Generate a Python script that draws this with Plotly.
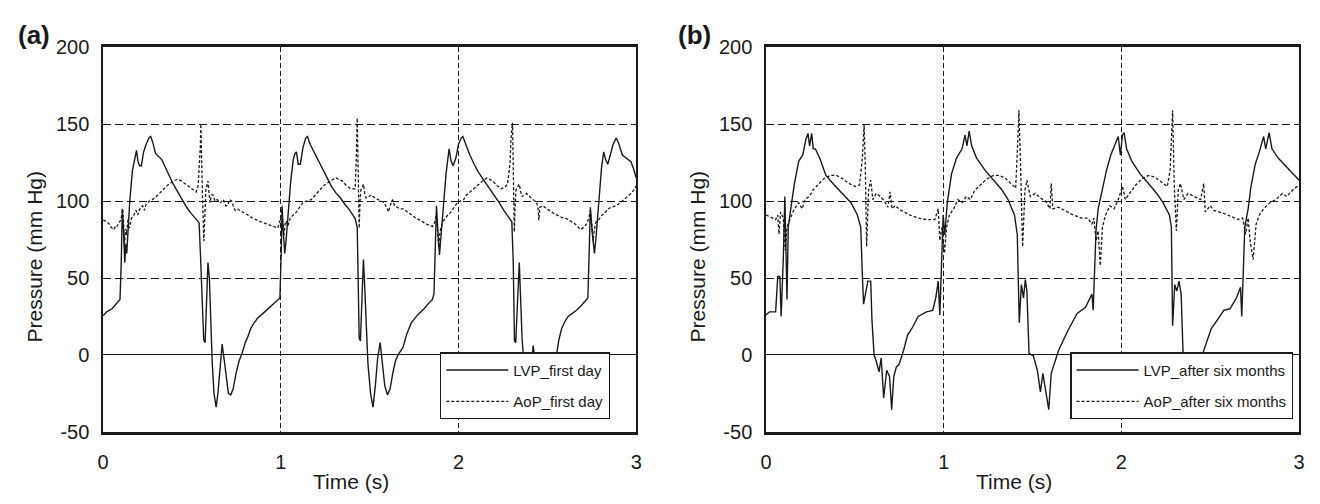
import plotly.graph_objects as go

# ---------------- Panel (a): first day ----------------
t_lvp_a = [0.000, 0.020, 0.050, 0.080, 0.095, 0.102, 0.108, 0.115, 0.122, 0.128, 0.133, 0.140, 0.150, 0.165,
           0.180, 0.188, 0.196, 0.205, 0.215, 0.228, 0.242, 0.258, 0.268, 0.280, 0.295, 0.310, 0.330, 0.350,
           0.370, 0.395, 0.420, 0.445, 0.470, 0.495, 0.515, 0.530, 0.540, 0.548, 0.556, 0.566, 0.574, 0.582,
           0.590, 0.598, 0.606, 0.614, 0.624, 0.636, 0.646, 0.658, 0.670, 0.680, 0.692, 0.705, 0.718, 0.732,
           0.748, 0.765, 0.782, 0.800, 0.815, 0.830, 0.845, 0.870, 0.900, 0.930, 0.960, 0.985, 0.995,
           1.003, 1.007, 1.014, 1.022, 1.030, 1.040, 1.055, 1.070, 1.080, 1.088, 1.098, 1.110, 1.125, 1.140,
           1.150, 1.165, 1.195, 1.220, 1.241, 1.265, 1.288, 1.312, 1.336, 1.360, 1.382, 1.405, 1.418, 1.430,
           1.436, 1.441, 1.448, 1.456, 1.465, 1.472, 1.480, 1.490, 1.505, 1.519, 1.532, 1.545, 1.559, 1.570,
           1.585, 1.600, 1.615, 1.630, 1.645, 1.660, 1.672, 1.688, 1.710, 1.735, 1.770, 1.806, 1.835, 1.853,
           1.862, 1.868, 1.876, 1.884, 1.893, 1.902, 1.915, 1.930, 1.947, 1.958, 1.970, 1.985, 2.000, 2.015,
           2.024, 2.040, 2.064, 2.088, 2.111, 2.140, 2.170, 2.200, 2.229, 2.255, 2.276, 2.300, 2.308, 2.315,
           2.322, 2.332, 2.342, 2.350, 2.358, 2.368, 2.380, 2.392, 2.405, 2.420, 2.432, 2.445, 2.460, 2.475,
           2.495, 2.520, 2.540, 2.553, 2.565, 2.580, 2.600, 2.617, 2.640, 2.664, 2.690, 2.711, 2.728, 2.736,
           2.742, 2.752, 2.765, 2.775, 2.790, 2.805, 2.817, 2.828, 2.840, 2.855, 2.870, 2.887, 2.900, 2.922,
           2.945, 2.970, 2.985, 3.000]
lvp_a = [25.5, 28, 30, 34, 36, 60, 95, 80, 60, 72, 66, 80, 100, 120,
         130, 133, 126, 123, 123, 132, 137, 141, 142, 138, 131, 129, 127, 122,
         117, 111, 106, 101, 96, 92, 89, 87, 86, 65, 35, 10, 8, 40,
         60, 50, 20, -5, -25, -34, -25, -8, 7, -2, -15, -25, -26, -22,
         -12, -4, 1, 8, 12, 17, 20, 24, 27, 30, 33, 36, 37,
         70, 97, 80, 66, 75, 90, 112, 127, 131, 132, 124, 124, 135, 141,
         142, 137, 130, 124, 119, 114, 109, 105, 102, 98, 95, 91, 88.7, 83,
         50, 11, 9, 40, 62, 45, 17, -5, -25, -34, -20, -2, 8, -5,
         -20, -26, -22, -12, -4, 0, 2, 5, 14, 21, 26, 30, 34, 36,
         40, 75, 97, 80, 65, 78, 95, 118, 134, 126, 123, 128, 137, 141,
         142, 137, 130, 124, 119, 114, 109, 104, 99, 94, 90.7, 86.6, 60, 9,
         8, 40, 60, 35, 10, -5, -25, -33, -15, 6, -5, -20, -25, -20,
         -10, -3, 0, 1, 10, 17, 22, 25, 27, 29, 32, 35, 37, 70,
         96, 80, 66, 78, 100, 122, 132, 127, 124, 130, 137, 141, 138, 130,
         128, 125.6, 121, 115]

t_aop_a = [0.000, 0.015, 0.031, 0.045, 0.061, 0.070, 0.078, 0.094, 0.104, 0.110, 0.116, 0.120, 0.126, 0.132,
           0.140, 0.148, 0.160, 0.172, 0.185, 0.195, 0.207, 0.222, 0.232, 0.242, 0.260, 0.277, 0.300, 0.324,
           0.350, 0.371, 0.395, 0.419, 0.442, 0.465, 0.489, 0.510, 0.524, 0.535, 0.541, 0.547, 0.550, 0.554,
           0.560, 0.567, 0.572, 0.578, 0.584, 0.590, 0.596, 0.602, 0.610, 0.618, 0.630, 0.642, 0.660, 0.677,
           0.690, 0.700, 0.712, 0.724, 0.735, 0.743, 0.755, 0.771, 0.795, 0.818, 0.840, 0.865, 0.890, 0.912,
           0.935, 0.959, 0.983, 0.995, 1.000, 1.006, 1.012, 1.018, 1.024, 1.030, 1.040, 1.053, 1.070, 1.089,
           1.105, 1.124, 1.145, 1.171, 1.195, 1.218, 1.240, 1.265, 1.290, 1.312, 1.330, 1.347, 1.370, 1.394,
           1.418, 1.424, 1.430, 1.436, 1.441, 1.446, 1.450, 1.458, 1.465, 1.472, 1.480, 1.495, 1.512, 1.530,
           1.547, 1.565, 1.582, 1.595, 1.606, 1.618, 1.629, 1.640, 1.653, 1.670, 1.688, 1.710, 1.735, 1.760,
           1.782, 1.805, 1.829, 1.853, 1.865, 1.876, 1.882, 1.888, 1.894, 1.900, 1.910, 1.923, 1.940, 1.959,
           1.975, 1.994, 2.010, 2.029, 2.045, 2.064, 2.088, 2.111, 2.135, 2.158, 2.175, 2.194, 2.218, 2.241,
           2.260, 2.276, 2.290, 2.295, 2.304, 2.310, 2.314, 2.318, 2.323, 2.332, 2.342, 2.350, 2.358, 2.370,
           2.382, 2.400, 2.417, 2.430, 2.440, 2.448, 2.452, 2.458, 2.476, 2.495, 2.511, 2.535, 2.558, 2.580,
           2.605, 2.630, 2.652, 2.670, 2.687, 2.705, 2.723, 2.735, 2.742, 2.750, 2.757, 2.765, 2.775, 2.790,
           2.805, 2.822, 2.840, 2.860, 2.887, 2.910, 2.934, 2.952, 2.970, 2.985, 3.000]
aop_a = [87.6, 87, 85.6, 83, 81.5, 84, 83.5, 86.6, 90, 95, 85, 70, 82, 78,
         88, 82.5, 89, 90.7, 94, 91, 95, 97, 94, 98, 100, 101, 103, 106,
         109, 111, 113, 114.3, 113, 111, 109, 107, 106, 110, 119.5, 135, 150, 120,
         99, 74, 90, 107, 110, 113, 105, 99, 104, 104, 100, 101, 99, 101,
         97, 97, 101, 100, 96, 94, 95, 94, 92, 90.7, 89, 87.6, 86.5, 85.6,
         84.5, 83.5, 82.5, 86.6, 92, 95, 85, 78, 85, 87, 84, 89, 91, 93,
         96, 99, 100, 101, 104, 107, 110, 112, 114, 115, 114, 113, 110, 108,
         108, 125, 154, 110, 82.5, 100, 107, 109, 111, 105, 102, 103, 104, 102,
         101, 100, 99, 96, 93, 98, 101, 97, 96, 95, 95, 93, 90.7, 89,
         87.6, 86, 84.5, 83.5, 86, 91.7, 80, 70, 78, 82.5, 86, 88.7, 91, 93,
         96, 99, 100, 101, 104, 106, 108, 111, 113, 115, 114, 113, 110, 108,
         109, 111, 125, 140, 151, 110, 80, 95, 107, 109, 111, 106, 103, 104,
         105, 103, 101, 100, 99, 95, 87.6, 96, 97, 95, 94, 92, 90.7, 89.5,
         88.7, 87, 85.6, 83.5, 81.5, 83, 85.6, 90, 94, 85, 74, 82, 86.6, 88,
         90.7, 92, 95, 96, 97, 99, 101, 103, 105, 107, 110]

# ---------------- Panel (b): after six months ----------------
t_lvp_b = [0.000, 0.019, 0.054, 0.066, 0.078, 0.085, 0.097, 0.106, 0.118, 0.125, 0.144, 0.160, 0.184, 0.207,
           0.224, 0.236, 0.245, 0.257, 0.266, 0.278, 0.302, 0.337, 0.384, 0.431, 0.478, 0.514, 0.533, 0.542,
           0.549, 0.573, 0.589, 0.596, 0.608, 0.620, 0.636, 0.648, 0.662, 0.679, 0.695, 0.707, 0.719, 0.733,
           0.749, 0.773, 0.797, 0.820, 0.856, 0.903, 0.938, 0.955, 0.969, 0.978, 0.990, 0.997, 1.006, 1.020,
           1.044, 1.072, 1.103, 1.120, 1.131, 1.143, 1.157, 1.185, 1.233, 1.280, 1.327, 1.362, 1.398, 1.414,
           1.420, 1.425, 1.437, 1.449, 1.459, 1.468, 1.480, 1.504, 1.527, 1.544, 1.558, 1.574, 1.591, 1.605,
           1.621, 1.645, 1.669, 1.704, 1.751, 1.798, 1.834, 1.841, 1.850, 1.857, 1.869, 1.893, 1.916, 1.940,
           1.963, 1.982, 1.994, 2.006, 2.015, 2.029, 2.058, 2.105, 2.152, 2.199, 2.234, 2.270, 2.281, 2.288,
           2.300, 2.312, 2.324, 2.336, 2.347, 2.360, 2.380, 2.395, 2.410, 2.425, 2.440, 2.458, 2.482, 2.505,
           2.541, 2.576, 2.611, 2.647, 2.670, 2.677, 2.687, 2.694, 2.713, 2.729, 2.753, 2.776, 2.800, 2.812,
           2.831, 2.847, 2.882, 2.930, 2.965, 3.000]
lvp_b = [26, 28, 28, 51, 51, 25, 62, 103, 36, 83, 99, 111.5, 126, 130,
         140, 144, 136, 144, 134, 134, 128, 116.7, 110.5, 105, 99, 91, 83, 52,
         33, 48, 48, 23, 0, -4, -11, -2, -28, -10, -14, -35.6, -14, -8,
         -6, 2.5, 13, 17, 25, 28, 29, 37, 48, 26, 66, 91, 78, 99,
         117.7, 128, 134, 143, 136, 145.5, 136, 128, 120, 113.6, 107.4, 101, 91, 78,
         37, 21, 45.7, 37, 49, 41.6, 1, -0.6, -10, -24, -12, -24, -35.6, -12,
         -6, 2.5, 8.6, 17, 27, 31, 39.5, 29, 58, 80.7, 95, 107.4, 120, 130,
         136, 142, 130, 143, 144.5, 134, 126, 117.7, 111.5, 105, 99, 91, 83, 19,
         45.7, 41.6, 48, 39.5, 1, -10, -25, -30, -20, -12, -5, 1, 10, 17,
         23, 29, 30, 37, 44, 25, 58, 83, 95, 109.5, 124, 132, 142, 134,
         144.5, 134, 128, 122, 117.7, 113.6]

t_aop_b = [0.000, 0.031, 0.054, 0.066, 0.073, 0.082, 0.097, 0.108, 0.118, 0.137, 0.160, 0.184, 0.203, 0.219,
           0.243, 0.266, 0.290, 0.325, 0.361, 0.396, 0.431, 0.467, 0.502, 0.526, 0.542, 0.552, 0.559, 0.566,
           0.577, 0.589, 0.601, 0.620, 0.643, 0.667, 0.686, 0.698, 0.709, 0.726, 0.761, 0.808, 0.856, 0.903,
           0.950, 0.969, 0.978, 0.990, 1.004, 1.016, 1.032, 1.056, 1.079, 1.103, 1.127, 1.150, 1.174, 1.209,
           1.244, 1.280, 1.315, 1.350, 1.386, 1.405, 1.417, 1.423, 1.433, 1.444, 1.457, 1.468, 1.487, 1.515,
           1.544, 1.574, 1.598, 1.605, 1.614, 1.645, 1.680, 1.728, 1.775, 1.810, 1.834, 1.845, 1.857, 1.869,
           1.881, 1.893, 1.911, 1.935, 1.959, 1.982, 2.006, 2.022, 2.046, 2.081, 2.116, 2.152, 2.187, 2.222,
           2.258, 2.274, 2.288, 2.297, 2.309, 2.320, 2.332, 2.351, 2.375, 2.410, 2.446, 2.463, 2.472, 2.500,
           2.520, 2.576, 2.623, 2.658, 2.682, 2.699, 2.713, 2.724, 2.741, 2.758, 2.776, 2.800, 2.835, 2.870,
           2.906, 2.930, 2.965, 3.000]
aop_b = [91, 89.3, 88, 91, 78.6, 93, 89, 68, 83, 89, 95, 99, 95, 101,
         103, 107.4, 110.5, 114.6, 116.7, 116.7, 114.6, 111.5, 109.5, 110.5, 128, 150, 120, 70.4,
         107, 113.6, 101, 105, 103, 100, 96, 106, 95, 97, 94, 91, 89, 88,
         88, 95, 74.5, 83, 66, 83, 91, 95, 101, 99, 103, 101, 107, 110.5,
         114.6, 116.7, 116.7, 114.6, 110.5, 108.4, 140, 159, 120, 70.4, 107, 113.6, 103, 105,
         102, 100, 95, 111.5, 95, 96, 94, 91, 89, 89, 85, 89, 74.5, 80.7,
         58, 83, 91, 97, 95, 101, 109.5, 101, 105, 110.5, 114.6, 116.7, 115.6, 112.6,
         109.5, 120, 159, 111.5, 80.7, 107.4, 111.5, 101, 105, 103, 101, 111.5, 93, 97,
         94, 92, 90, 88, 89, 78.6, 89, 74.5, 62, 85, 91, 95, 99, 101,
         105, 103, 107.4, 110.5]

x_ticks = [0, 1, 2, 3]
x_ticktext = ["0", "1", "2", "3"]
y_ticks = [-50, 0, 50, 100, 150, 200]
y_ticktext = ["-50", "0", "50", "100", "150", "200"]
legend_a = ["LVP_first day", "AoP_first day"]
legend_b = ["LVP_after six months", "AoP_after six months"]

FONT = "Arial, Liberation Sans, Helvetica, sans-serif"
INK = "#1a1a1a"
W, H = 1320, 504

fig = go.Figure()
fig.add_trace(go.Scatter(x=t_lvp_a, y=lvp_a, mode="lines", name=legend_a[0], legendgroup="a1",
                         line=dict(color=INK, width=1.4), xaxis="x", yaxis="y", legend="legend"))
fig.add_trace(go.Scatter(x=t_aop_a, y=aop_a, mode="lines", name=legend_a[1], legendgroup="a2",
                         line=dict(color=INK, width=1.3, dash="3px,2px"), xaxis="x", yaxis="y", legend="legend"))
fig.add_trace(go.Scatter(x=t_lvp_b, y=lvp_b, mode="lines", name=legend_b[0], legendgroup="b1",
                         line=dict(color=INK, width=1.4), xaxis="x2", yaxis="y2", legend="legend2"))
fig.add_trace(go.Scatter(x=t_aop_b, y=aop_b, mode="lines", name=legend_b[1], legendgroup="b2",
                         line=dict(color=INK, width=1.3, dash="3px,2px"), xaxis="x2", yaxis="y2", legend="legend2"))

def px_x(p):
    return p / W

def px_y(p):
    return 1 - p / H

ydom = [px_y(440), px_y(38)]
xdom_a = [px_x(98), px_x(636)]
xdom_b = [px_x(767), px_x(1305)]

xax = dict(range=[0, 3], tickvals=x_ticks, ticktext=x_ticktext, showgrid=True, gridcolor=INK, gridwidth=1,
           griddash="5px,3px", zeroline=False, showline=True, linecolor=INK, linewidth=2.5, mirror=True, ticks="",
           ticklabelstandoff=10, tickfont=dict(family=FONT, size=20, color=INK), fixedrange=True)
yax = dict(range=[-50, 200], tickvals=y_ticks, ticktext=y_ticktext, showgrid=True, gridcolor=INK, gridwidth=1.1,
           griddash="8px,4px", zeroline=True, zerolinecolor=INK, zerolinewidth=1.4, showline=True, linecolor=INK,
           linewidth=1.5, mirror=True, ticks="", ticklabelstandoff=8,
           tickfont=dict(family=FONT, size=20, color=INK), fixedrange=True)

leg_common = dict(bgcolor="white", bordercolor=INK, borderwidth=1.3, font=dict(family=FONT, size=15, color=INK),
                  itemwidth=62, tracegroupgap=9, xanchor="left", yanchor="top", traceorder="grouped")

fig.update_layout(
    width=W, height=H, margin=dict(l=0, r=0, t=0, b=0),
    paper_bgcolor="white", plot_bgcolor="white",
    xaxis=dict(domain=xdom_a, anchor="y", **xax),
    yaxis=dict(domain=ydom, anchor="x", **yax),
    xaxis2=dict(domain=xdom_b, anchor="y2", **xax),
    yaxis2=dict(domain=ydom, anchor="x2", **yax),
    legend=dict(x=px_x(438), y=px_y(357), **leg_common),
    legend2=dict(x=px_x(1074), y=px_y(357), **leg_common),
    showlegend=True,
)

annots = [
    dict(text="<b>(a)</b>", x=px_x(28), y=px_y(25)),
    dict(text="<b>(b)</b>", x=px_x(695), y=px_y(25)),
]
for a in annots:
    fig.add_annotation(xref="paper", yref="paper", xanchor="center", yanchor="middle", showarrow=False,
                       font=dict(family=FONT, size=26, color=INK), **a)

for cx in (29, 698):
    fig.add_annotation(text="Pressure (mm Hg)", xref="paper", yref="paper", x=px_x(cx), y=px_y(257),
                       xanchor="center", yanchor="middle", showarrow=False, textangle=-90,
                       font=dict(family=FONT, size=21, color=INK))
for cx in (348, 1017):
    fig.add_annotation(text="Time (s)", xref="paper", yref="paper", x=px_x(cx), y=0,
                       xanchor="center", yanchor="bottom", yshift=-2, showarrow=False,
                       font=dict(family=FONT, size=21, color=INK))

fig.write_html("out.html")
